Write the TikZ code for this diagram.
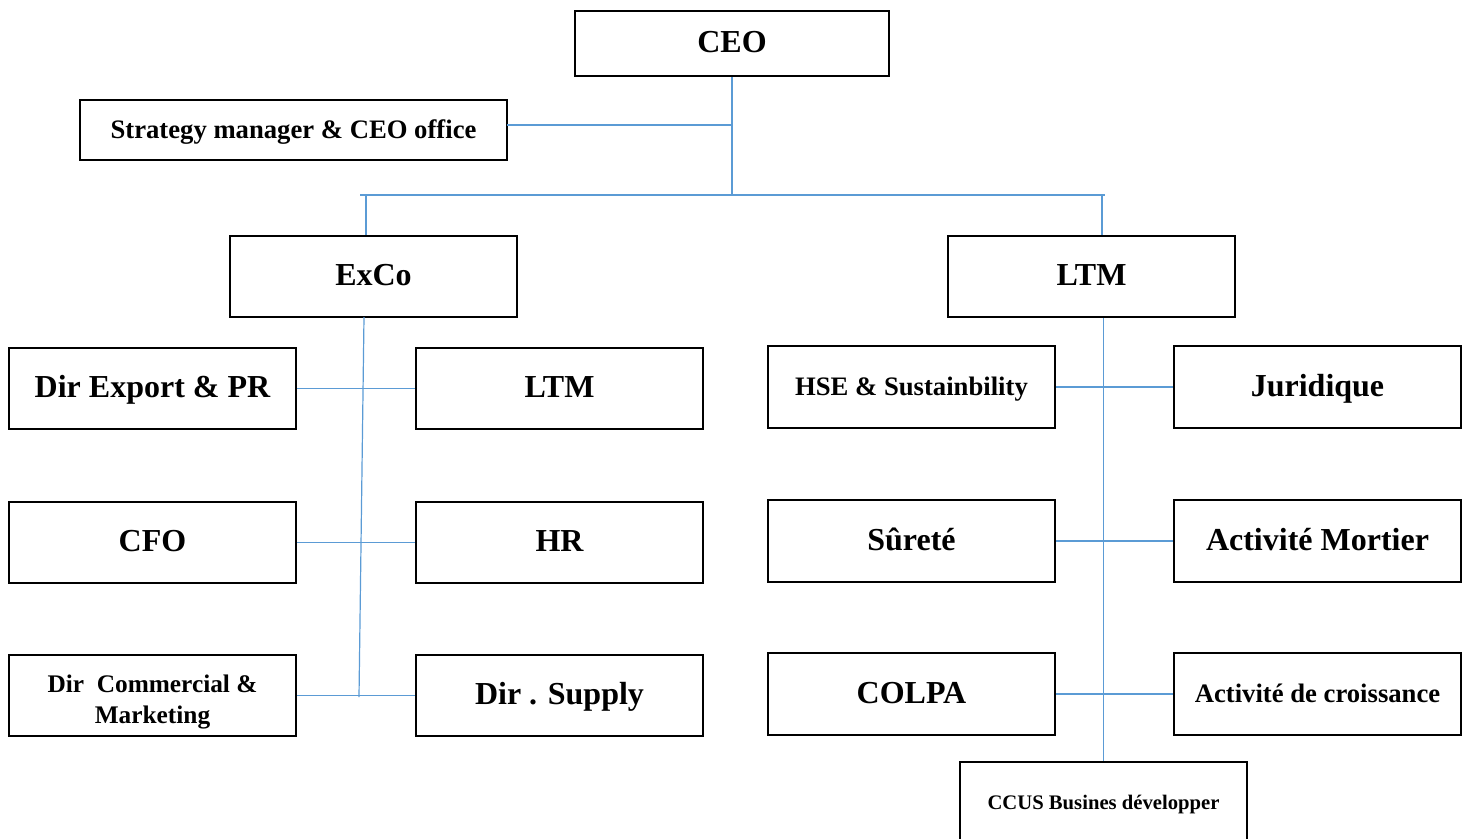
\documentclass[tikz,border=0pt]{standalone}
\usepackage{fontspec}
\setmainfont{Liberation Serif}
\usetikzlibrary{positioning}
\definecolor{linkblue}{RGB}{91,155,213}
\tikzset{
    box/.style={draw=black,line width=1.7pt,fill=white,inner sep=0pt,
        minimum width=215pt,minimum height=61pt,font=\bfseries},
    big/.style={font=\fontsize{24}{27}\selectfont\bfseries,text height=17pt,text depth=3pt},
    mid/.style={font=\fontsize{20}{23}\selectfont\bfseries,text height=15pt,text depth=2pt},
    small/.style={font=\fontsize{15.5}{18}\selectfont\bfseries,text height=12pt,text depth=2pt},
    link/.style={draw=linkblue,line width=0.9pt}
}

\begin{document}
\begin{tikzpicture}[x=0.75pt,y=-0.75pt]
    \useasboundingbox (0,0) rectangle (1468,839);

    % top level
    \node[box,big,minimum width=235.5pt,minimum height=49pt] (ceo) at (732,43.5) {CEO};
    \node[box,mid,minimum width=320pt,minimum height=45pt] (strat) at (293.5,130) {Strategy manager \& CEO office};
    \node[box,big] (exco) at (373.5,276.5) {ExCo};
    \node[box,big] (ltm) at (1091.5,276.5) {LTM};

    % ExCo side
    \node[box,big] (export) at (152.5,388.5) {Dir Export \& PR};
    \node[box,big] (ltmb) at (559.5,388.5) {LTM};
    \node[box,big] (cfo) at (152.5,542.5) {CFO};
    \node[box,big] (hr) at (559.5,542.5) {HR};
    \node[box,font=\fontsize{19}{23}\selectfont\bfseries] (commercial) at (152.5,695.5)
        {\raisebox{-9pt}[0pt][0pt]{\begin{tabular}{@{}c@{}}Dir\ \ Commercial \&\\Marketing\end{tabular}}};
    \node[box,big] (supply) at (559.5,695.5) {Dir . Supply};

    % LTM side
    \node[box,mid] (hse) at (911.5,387) {HSE \& Sustainbility};
    \node[box,big] (juridique) at (1317.5,387) {Juridique};
    \node[box,big] (surete) at (911.5,541) {Sûreté};
    \node[box,big] (mortier) at (1317.5,541) {Activité Mortier};
    \node[box,big] (colpa) at (911.5,694) {COLPA};
    \node[box,mid] (croissance) at (1317.5,694) {Activité de croissance};
    \node[box,small] (ccus) at (1103.5,802.5) {CCUS Busines développer};

    % junctions
    \coordinate (bus left) at (360,195);
    \coordinate (bus right) at (1105,195);
    \coordinate (exco drop) at (366,195);
    \coordinate (ltm drop) at (1102,195);
    \coordinate (exco foot) at (364,317);
    \coordinate (exco end) at (359,697);
    \coordinate (strat tee) at (507,125);

    \draw[link] (ceo.south) -- (ceo.south |- bus left);
    \draw[link] (strat tee) -- (strat tee -| ceo.south);
    \draw[link] (bus left) -- (bus right);
    \draw[link] (exco drop) -- (exco drop |- exco.north);
    \draw[link] (ltm drop) -- (ltm drop |- ltm.north);

    \draw[link] (exco foot) -- (exco end);
    \draw[link] (export.east) -- (ltmb.west);
    \draw[link] (cfo.east) -- (hr.west);
    \draw[link] (commercial.east) -- (supply.west);

    \draw[link] (ltm.south -| ccus.north) -- (ccus.north);
    \draw[link] (hse.east) -- (juridique.west);
    \draw[link] (surete.east) -- (mortier.west);
    \draw[link] (colpa.east) -- (croissance.west);
\end{tikzpicture}
\end{document}
